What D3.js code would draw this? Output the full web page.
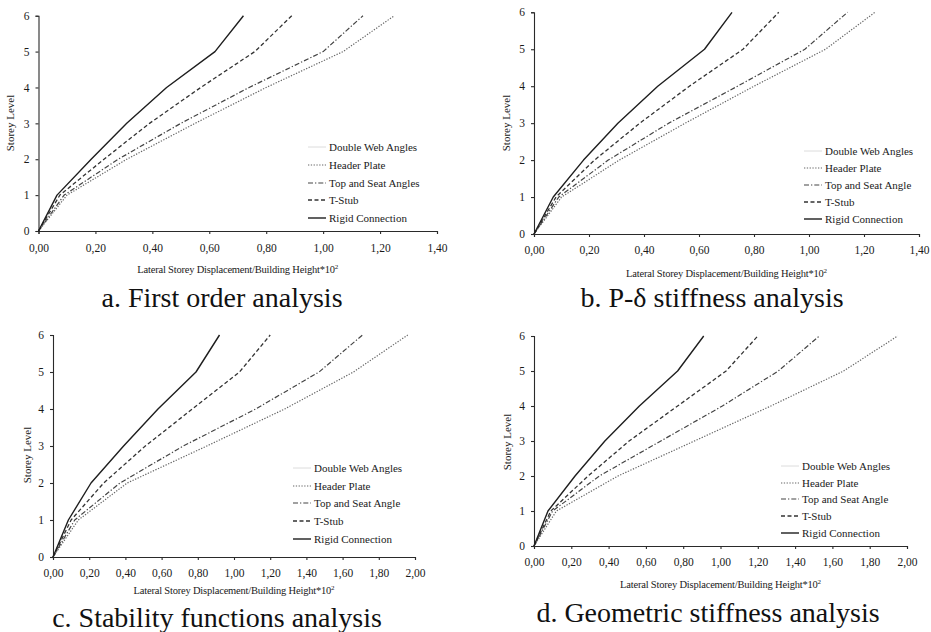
<!DOCTYPE html>
<html>
<head>
<meta charset="utf-8">
<script src="https://cdnjs.cloudflare.com/ajax/libs/d3/7.8.5/d3.min.js"></script>
<style>
	body { margin: 0; background: #fff; }
	svg { display: block; font-family: "Liberation Serif", "DejaVu Serif", serif; }
</style>
</head>
<body>
<svg id="chart" width="931" height="632"></svg>
<script>
// storey levels (y values) shared by every curve
var levels = [0, 1, 2, 3, 4, 5, 6];
var yTicks = [0, 1, 2, 3, 4, 5, 6];
var xTicksShort = [0, 0.2, 0.4, 0.6, 0.8, 1.0, 1.2, 1.4];
var xTicksLong = [0, 0.2, 0.4, 0.6, 0.8, 1.0, 1.2, 1.4, 1.6, 1.8, 2.0];

// a. First order analysis
var headerA = [0, 0.10, 0.31, 0.55, 0.80, 1.07, 1.25];
var topSeatA = [0, 0.09, 0.28, 0.50, 0.74, 1.00, 1.14];
var tStubA = [0, 0.075, 0.23, 0.39, 0.57, 0.76, 0.89];
var rigidA = [0, 0.065, 0.185, 0.31, 0.45, 0.62, 0.72];

// b. P-delta stiffness analysis
var headerB = [0, 0.10, 0.31, 0.55, 0.80, 1.06, 1.24];
var topSeatB = [0, 0.09, 0.27, 0.49, 0.74, 0.985, 1.14];
var tStubB = [0, 0.08, 0.22, 0.385, 0.565, 0.76, 0.89];
var rigidB = [0, 0.07, 0.18, 0.305, 0.45, 0.62, 0.72];

// c. Stability functions analysis
var headerC = [0, 0.14, 0.41, 0.85, 1.28, 1.66, 1.96];
var topSeatC = [0, 0.12, 0.37, 0.72, 1.12, 1.47, 1.71];
var tStubC = [0, 0.10, 0.28, 0.51, 0.77, 1.03, 1.20];
var rigidC = [0, 0.085, 0.21, 0.39, 0.58, 0.79, 0.92];

// d. Geometric stiffness analysis
var headerD = [0, 0.12, 0.45, 0.86, 1.27, 1.66, 1.95];
var topSeatD = [0, 0.10, 0.35, 0.68, 1.01, 1.31, 1.53];
var tStubD = [0, 0.09, 0.29, 0.51, 0.77, 1.03, 1.20];
var rigidD = [0, 0.075, 0.22, 0.38, 0.565, 0.77, 0.91];

var legendA = ["Double Web Angles", "Header Plate", "Top and Seat Angles", "T-Stub", "Rigid Connection"];
var legendOther = ["Double Web Angles", "Header Plate", "Top and Seat Angle", "T-Stub", "Rigid Connection"];

var captions = ["a. First order analysis", "b. P-\u03b4 stiffness analysis", "c. Stability functions analysis", "d. Geometric stiffness analysis"];

// line styles: double web (faint), header, top&seat, t-stub, rigid
var styles = [
	{ stroke: "#dcdcdc", dash: null, width: 1 },
	{ stroke: "#666", dash: "1.3,1.5", width: 1.2 },
	{ stroke: "#444", dash: "5,2,1.3,2", width: 1.2 },
	{ stroke: "#333", dash: "4,2.5", width: 1.3 },
	{ stroke: "#1e1e1e", dash: null, width: 1.4 }
];

var panels = [
	{ x0: 38.5, x1: 437, yTop: 15.7, yBot: 231, xMax: 1.4, xTicks: xTicksShort,
		series: [headerA, topSeatA, tStubA, rigidA], legend: legendA,
		tickY: 252, titleY: 273, storeyX: 14, storeyY: 123,
		legX: 308, legRows: [147, 165, 183, 200, 218], capX: 222, capY: 307 },
	{ x0: 534, x1: 919, yTop: 12.3, yBot: 234, xMax: 1.4, xTicks: xTicksShort,
		series: [headerB, topSeatB, tStubB, rigidB], legend: legendOther,
		tickY: 254, titleY: 277, storeyX: 510, storeyY: 123,
		legX: 804, legRows: [151, 168, 185, 202, 219], capX: 712, capY: 307 },
	{ x0: 53, x1: 415, yTop: 335, yBot: 557, xMax: 2.0, xTicks: xTicksLong,
		series: [headerC, topSeatC, tStubC, rigidC], legend: legendOther,
		tickY: 577, titleY: 594, storeyX: 31, storeyY: 455,
		legX: 293, legRows: [468, 486, 503, 521, 539], capX: 217, capY: 627 },
	{ x0: 534, x1: 907, yTop: 336, yBot: 546, xMax: 2.0, xTicks: xTicksLong,
		series: [headerD, topSeatD, tStubD, rigidD], legend: legendOther,
		tickY: 566, titleY: 588, storeyX: 511, storeyY: 442,
		legX: 781, legRows: [466, 483, 499, 516, 533], capX: 708, capY: 622 }
];

var svg = d3.select("#chart");
var fmt = function (d) { return d3.format(".2f")(d).replace(".", ","); };

panels.forEach(function (p, i) {
	var x = d3.scaleLinear().domain([0, p.xMax]).range([p.x0, p.x1]);
	var y = d3.scaleLinear().domain([0, 6]).range([p.yBot, p.yTop]);
	var g = svg.append("g");

	// x axis
	var xAxis = g.append("g")
		.attr("transform", "translate(0," + p.yBot + ")")
		.call(d3.axisBottom(x).tickValues(p.xTicks).tickFormat(fmt).tickSize(3).tickPadding(7));
	xAxis.selectAll("text").attr("dy", null).attr("y", p.tickY - p.yBot);

	// y axis
	g.append("g")
		.attr("transform", "translate(" + p.x0 + ",0)")
		.call(d3.axisLeft(y).tickValues(yTicks).tickFormat(d3.format("d")).tickSize(3).tickPadding(6));

	g.selectAll(".domain, .tick line").attr("stroke", "#2a2a2a").attr("stroke-width", 1.1);
	g.selectAll(".tick text").attr("fill", "#1a1a1a").style("font-size", "11.5px")
		.style("font-family", "'Liberation Serif', serif");

	// axis titles
	var title = g.append("text")
		.attr("x", (p.x0 + p.x1) / 2)
		.attr("y", p.titleY)
		.attr("text-anchor", "middle")
		.attr("fill", "#1a1a1a")
		.style("font-size", "10.5px")
		.style("letter-spacing", "-0.2px")
		.text("Lateral Storey Displacement/Building Height*10");
	title.append("tspan").attr("dy", -4).style("font-size", "7px").text("2");

	g.append("text")
		.attr("transform", "translate(" + p.storeyX + "," + p.storeyY + ") rotate(-90)")
		.attr("text-anchor", "middle")
		.attr("fill", "#1a1a1a")
		.style("font-size", "11px")
		.text("Storey Level");

	// curves
	var line = d3.line()
		.x(function (d) { return x(d[0]); })
		.y(function (d) { return y(d[1]); });

	p.series.forEach(function (vals, k) {
		var st = styles[k + 1];
		g.append("path")
			.datum(vals.map(function (v, j) { return [v, levels[j]]; }))
			.attr("d", line)
			.attr("fill", "none")
			.attr("stroke", st.stroke)
			.attr("stroke-width", st.width)
			.attr("stroke-linejoin", "round")
			.attr("stroke-dasharray", st.dash);
	});

	// legend
	p.legend.forEach(function (name, k) {
		var st = styles[k];
		var ry = p.legRows[k];
		g.append("line")
			.attr("x1", p.legX).attr("x2", p.legX + 18)
			.attr("y1", ry).attr("y2", ry)
			.attr("stroke", st.stroke)
			.attr("stroke-width", st.width)
			.attr("stroke-dasharray", st.dash);
		g.append("text")
			.attr("x", p.legX + 21)
			.attr("y", ry + 4)
			.attr("fill", "#1a1a1a")
			.style("font-size", "11px")
			.text(name);
	});

	// caption under each panel
	svg.append("text")
		.attr("x", p.capX)
		.attr("y", p.capY)
		.attr("text-anchor", "middle")
		.attr("fill", "#111")
		.style("font-size", "28px")
		.text(captions[i]);
});
</script>
</body>
</html>
